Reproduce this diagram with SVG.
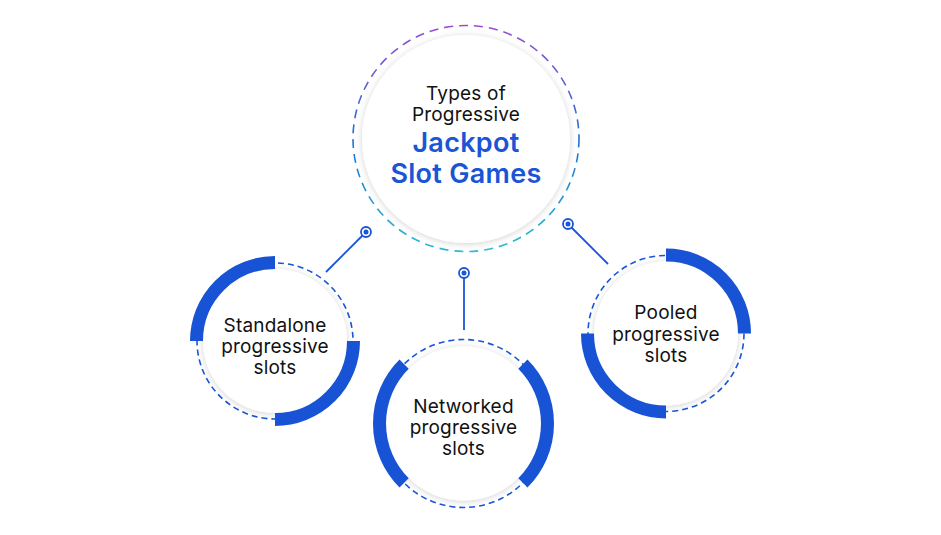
<svg xmlns="http://www.w3.org/2000/svg" width="941" height="535" viewBox="0 0 941 535">
<style>
.t{font-family:Inter,"Noto Sans",sans-serif;font-size:19px;letter-spacing:0.2px;fill:#111;text-anchor:middle}
.b{font-family:Inter,"Noto Sans",sans-serif;font-size:27px;font-weight:600;letter-spacing:0.3px;fill:#1a55d6;text-anchor:middle}
.thick{fill:none;stroke:#1753d4;stroke-width:13}
.dash{fill:none;stroke:#1a55d6;stroke-width:1.6;stroke-dasharray:6 4}
.disc{fill:#fff;filter:url(#sh)}
.ln{stroke:#1a55d6;stroke-width:1.8;fill:none}
.ring{fill:#fff;stroke:#1a55d6;stroke-width:1.8}
.dot{fill:#1a55d6}
</style>
<defs>
<filter id="sh" x="-20%" y="-20%" width="140%" height="140%">
<feDropShadow dx="0" dy="1" stdDeviation="3" flood-color="#000" flood-opacity="0.18"/>
</filter>
<linearGradient id="g" x1="0" y1="0" x2="0" y2="1">
<stop offset="0" stop-color="#9b4dd3"/>
<stop offset="0.5" stop-color="#1d72d8"/>
<stop offset="1" stop-color="#2dbbd6"/>
</linearGradient>
</defs>
<rect width="941" height="535" fill="#fff"/>
<g id="connectors">
<line class="ln" x1="366" y1="232" x2="326" y2="272"/>
<line class="ln" x1="464" y1="273" x2="464" y2="330"/>
<line class="ln" x1="568" y1="224" x2="608" y2="264"/>
<circle class="ring" cx="366" cy="232" r="5"/><circle class="dot" cx="366" cy="232" r="2.5"/>
<circle class="ring" cx="464" cy="273" r="5"/><circle class="dot" cx="464" cy="273" r="2.5"/>
<circle class="ring" cx="568" cy="224" r="5"/><circle class="dot" cx="568" cy="224" r="2.5"/>
</g>
<g id="center">
<circle cx="466" cy="138.5" r="113" fill="none" stroke="url(#g)" stroke-width="1.6" stroke-dasharray="9 6"/>
<circle class="disc" cx="466" cy="139" r="104"/>
<text class="t" x="466" y="100">Types of</text>
<text class="t" x="466" y="121">Progressive</text>
<text class="b" x="466" y="152">Jackpot</text>
<text class="b" x="466" y="183">Slot Games</text>
</g>
<g id="standalone">
<circle class="dash" cx="275" cy="341" r="78"/>
<circle class="disc" cx="275" cy="341" r="72"/>
<path class="thick" d="M196.5 341A78.5 78.5 0 0 1 275 262.5"/>
<path class="thick" d="M353.5 341A78.5 78.5 0 0 1 275 419.5"/>
<text class="t" x="275" y="332">Standalone</text>
<text class="t" x="275" y="353">progressive</text>
<text class="t" x="275" y="374">slots</text>
</g>
<g id="networked">
<circle class="dash" cx="463.5" cy="423.5" r="84"/>
<circle class="disc" cx="463.5" cy="423.5" r="77"/>
<path class="thick" d="M522.9 364.1A84 84 0 0 1 522.9 482.9"/>
<path class="thick" d="M404.1 482.9A84 84 0 0 1 404.1 364.1"/>
<text class="t" x="463.5" y="413">Networked</text>
<text class="t" x="463.5" y="434">progressive</text>
<text class="t" x="463.5" y="455">slots</text>
</g>
<g id="pooled">
<circle class="dash" cx="666" cy="333.5" r="78"/>
<circle class="disc" cx="666" cy="333.5" r="72"/>
<path class="thick" d="M666 255A78.5 78.5 0 0 1 744.5 333.5"/>
<path class="thick" d="M587.5 333.5A78.5 78.5 0 0 0 666 412"/>
<text class="t" x="666" y="319">Pooled</text>
<text class="t" x="666" y="341">progressive</text>
<text class="t" x="666" y="362">slots</text>
</g>
</svg>
